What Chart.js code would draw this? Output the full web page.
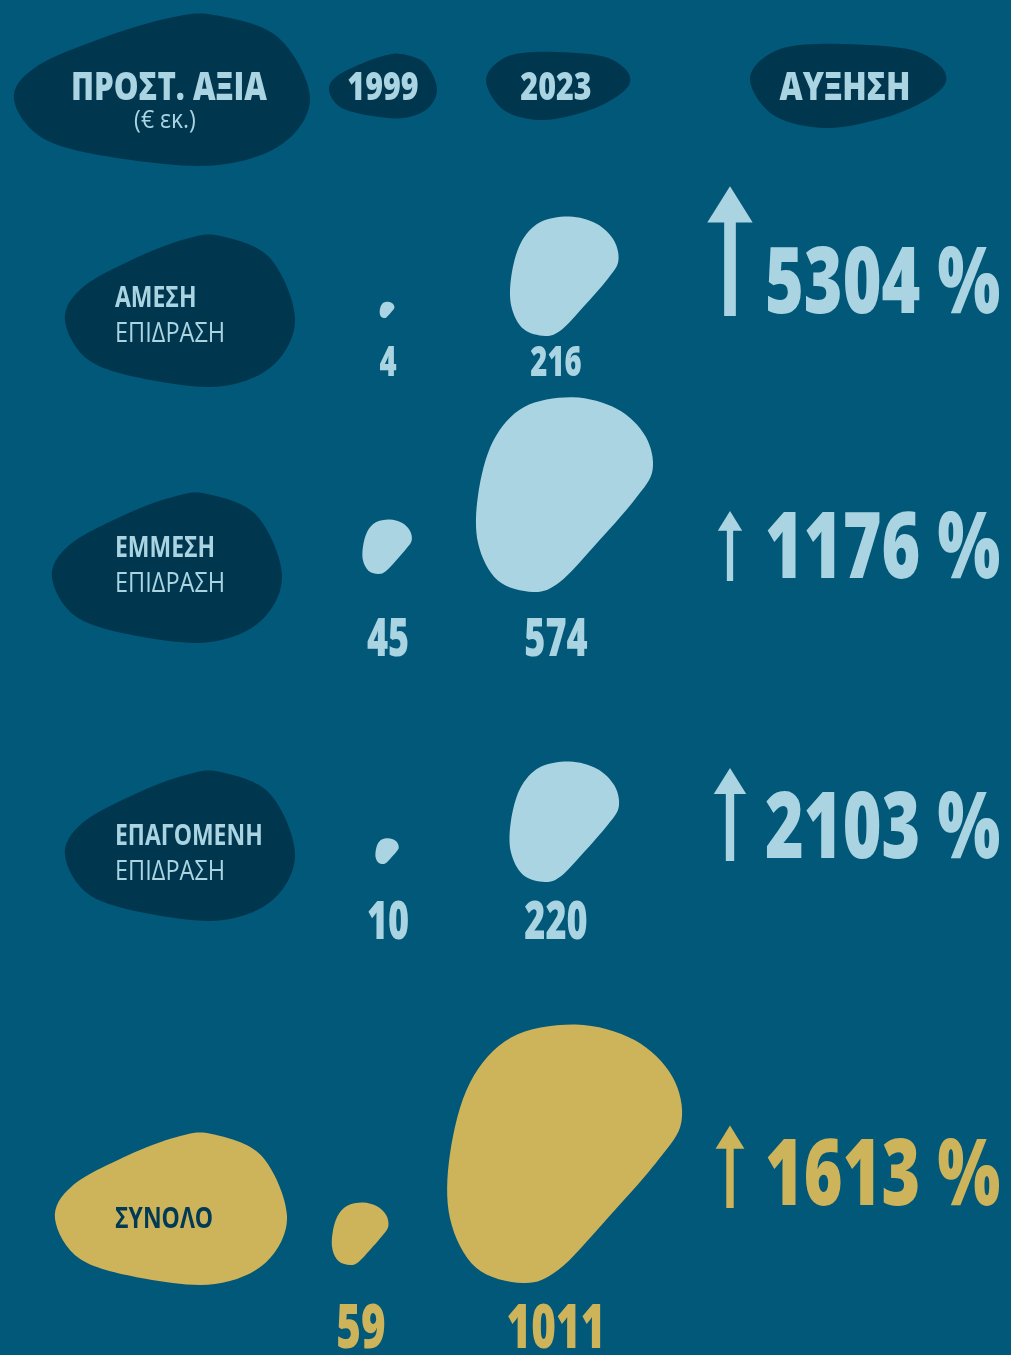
<!DOCTYPE html>
<html>
<head>
<meta charset="utf-8">
<script src="https://cdn.jsdelivr.net/npm/chart.js@4.4.1/dist/chart.umd.min.js"></script>
<style>
html,body{margin:0;padding:0;background:#025878;overflow:hidden;}
canvas{display:block;}
</style>
</head>
<body>
<canvas id="c" width="1011" height="1355"></canvas>
<script>
// ---------- DATA ----------
const categories = ['ΑΜΕΣΗ', 'ΕΜΜΕΣΗ', 'ΕΠΑΓΟΜΕΝΗ', 'ΣΥΝΟΛΟ'];
const categorySub = ['ΕΠΙΔΡΑΣΗ', 'ΕΠΙΔΡΑΣΗ', 'ΕΠΙΔΡΑΣΗ', ''];
const years = ['1999', '2023'];
const values1999 = [4, 45, 10, 59];
const values2023 = [216, 574, 220, 1011];
const increasePct = [5304, 1176, 2103, 1613];
const headerTitle = 'ΠΡΟΣΤ. ΑΞΙΑ';
const headerUnit = '(€ εκ.)';
const headerIncrease = 'ΑΥΞΗΣΗ';

// ---------- STYLE / LAYOUT ----------
const COLORS = {
  bg: '#025878',
  dark: '#00374f',
  light: '#aad4e1',
  gold: '#cdb35a',
  darkText: '#003a55'
};
const FONT = '"Open Sans", "DejaVu Sans", sans-serif';
const LAYOUT = {
  yearX: [387, 564],
  yearShiftX: [[0, 0], [0, 0], [0, 0], [-27, 0]],
  rowBase: [336, 592, 882, 1283],
  lift1999: 18,
  valueLabelY: [364, 641, 924, 1330],
  valueLabelSize: [43, 53, 53, 62],
  valueLabelShiftX: [1, -8],
  pctBaseline: [313, 578, 858, 1205],
  pctX: 765,
  arrowX: 730,
  pctSize: 92,
  rowBlob: [
    {cx: 180, cy: 311, hw: 115, hh: 75},
    {cx: 167, cy: 568, hw: 115, hh: 74},
    {cx: 180, cy: 846, hw: 115, hh: 74},
    {cx: 171, cy: 1209, hw: 116, hh: 75}
  ],
  rowTextX: 115,
  rowLine1: [307, 557, 845, 1228],
  rowLine2: [342, 592, 880, 0],
  header: {
    title: {cx: 162, cy: 90, hw: 148, hh: 75},
    y1999: {cx: 383, cy: 86, hw: 54, hh: 32},
    y2023: {cx: 558, cy: 86, hw: 72, hh: 34},
    inc: {cx: 848, cy: 86, hw: 98, hh: 42}
  }
};
const SCALE_K = 3.87;      // bubble radius per sqrt(value)

// blob templates (normalised outline points)
const SHAPE_DATA = [[0.1,-1],[0.6,-0.88],[0.92,-0.6],[1,-0.25],[0.8,0.05],[0.35,0.52],[-0.05,0.9],[-0.35,1],[-0.75,0.88],[-0.97,0.5],[-0.97,0.0],[-0.8,-0.55],[-0.45,-0.9]];
const SHAPE_LABEL = [[0.35,-1],[0.78,-0.71],[1,0.09],[0.82,0.71],[0.38,1],[-0.22,0.93],[-0.78,0.67],[-1,0.13],[-0.85,-0.31],[-0.38,-0.71],[0.05,-0.96]];
const SHAPE_PILL = [[-0.32,-1],[0.56,-0.9],[0.91,-0.55],[1,-0.11],[0.81,0.32],[0.38,0.75],[-0.22,1],[-0.75,0.71],[-1,-0.15],[-0.78,-0.79]];

function radius(v) { return SCALE_K * Math.sqrt(v); }

function blobPath(ctx, shape, cx, cy, hw, hh) {
  const p = shape.map(([a, b]) => [cx + a * hw, cy + b * hh]);
  const n = p.length;
  ctx.beginPath();
  ctx.moveTo(p[0][0], p[0][1]);
  for (let i = 0; i < n; i++) {
    const p0 = p[(i - 1 + n) % n], p1 = p[i], p2 = p[(i + 1) % n], p3 = p[(i + 2) % n];
    const c1x = p1[0] + (p2[0] - p0[0]) / 6, c1y = p1[1] + (p2[1] - p0[1]) / 6;
    const c2x = p2[0] - (p3[0] - p1[0]) / 6, c2y = p2[1] - (p3[1] - p1[1]) / 6;
    ctx.bezierCurveTo(c1x, c1y, c2x, c2y, p2[0], p2[1]);
  }
  ctx.closePath();
}

function drawText(ctx, s, x, y, o) {
  ctx.save();
  ctx.font = `${o.weight || 700} ${o.size}px ${FONT}`;
  ctx.fillStyle = o.color;
  ctx.textBaseline = o.baseline || 'alphabetic';
  ctx.textAlign = 'left';
  const sx = o.sx || 0.78;
  const w = ctx.measureText(s).width * sx;
  let left = x;
  if (o.align === 'center') left = x - w / 2;
  else if (o.align === 'right') left = x - w;
  ctx.translate(left, y);
  ctx.scale(sx, 1);
  ctx.fillText(s, 0, 0);
  ctx.restore();
}

function blobAt(ctx, sx, sy, shape, b, color) {
  ctx.save();
  ctx.fillStyle = color;
  blobPath(ctx, shape, sx.getPixelForValue(b.cx), sy.getPixelForValue(b.cy),
    b.hw, b.hh);
  ctx.fill();
  ctx.restore();
}

const backgroundPlugin = {
  id: 'decor',
  beforeDraw(chart) {
    const ctx = chart.ctx, X = chart.scales.x, Y = chart.scales.y;
    ctx.save();
    ctx.fillStyle = COLORS.bg;
    ctx.fillRect(0, 0, chart.width, chart.height);
    ctx.restore();
    const H = LAYOUT.header;
    blobAt(ctx, X, Y, SHAPE_LABEL, H.title, COLORS.dark);
    blobAt(ctx, X, Y, SHAPE_LABEL, H.y1999, COLORS.dark);
    blobAt(ctx, X, Y, SHAPE_PILL, H.y2023, COLORS.dark);
    blobAt(ctx, X, Y, SHAPE_PILL, H.inc, COLORS.dark);
    drawText(ctx, headerTitle, X.getPixelForValue(H.title.cx + 7), Y.getPixelForValue(100), {size: 39, weight: 800, color: COLORS.light, align: 'center', sx: 0.8});
    drawText(ctx, headerUnit, X.getPixelForValue(H.title.cx + 3), Y.getPixelForValue(128), {size: 25, weight: 400, color: COLORS.light, align: 'center', sx: 0.92});
    drawText(ctx, years[0], X.getPixelForValue(H.y1999.cx), Y.getPixelForValue(100), {size: 39, weight: 800, color: COLORS.light, align: 'center', sx: 0.78});
    drawText(ctx, years[1], X.getPixelForValue(H.y2023.cx - 2), Y.getPixelForValue(100), {size: 39, weight: 800, color: COLORS.light, align: 'center', sx: 0.78});
    drawText(ctx, headerIncrease, X.getPixelForValue(H.inc.cx - 3), Y.getPixelForValue(100), {size: 39, weight: 800, color: COLORS.light, align: 'center', sx: 0.82});

    categories.forEach((c, i) => {
      const total = i === categories.length - 1;
      blobAt(ctx, X, Y, SHAPE_LABEL, LAYOUT.rowBlob[i], total ? COLORS.gold : COLORS.dark);
      const tx = X.getPixelForValue(LAYOUT.rowTextX);
      drawText(ctx, c, tx, Y.getPixelForValue(LAYOUT.rowLine1[i]), {size: 28, color: total ? COLORS.darkText : COLORS.light, sx: 0.82});
      if (categorySub[i]) {
        drawText(ctx, categorySub[i], tx, Y.getPixelForValue(LAYOUT.rowLine2[i]), {size: 28, weight: 400, color: COLORS.light, sx: 0.84});
      }
    });
  },
  afterDatasetsDraw(chart) {
    const ctx = chart.ctx, X = chart.scales.x, Y = chart.scales.y;
    chart.data.datasets.forEach((ds, di) => {
      const meta = chart.getDatasetMeta(di);
      meta.data.forEach((el, i) => {
        const r = el.options.radius;
        const color = i === categories.length - 1 ? COLORS.gold : COLORS.light;
        ctx.save();
        ctx.fillStyle = color;
        blobPath(ctx, SHAPE_DATA, el.x, el.y, r * 0.955, r * 1.05);
        ctx.fill();
        ctx.restore();
        // value label
        const lx = el.x + LAYOUT.valueLabelShiftX[di];
        drawText(ctx, String(ds.data[i].v), lx, Y.getPixelForValue(LAYOUT.valueLabelY[i]),
          {size: LAYOUT.valueLabelSize[i], weight: 800, color, align: 'center', baseline: 'middle', sx: 0.68});
      });
    });
    // increase arrows + percentages
    increasePct.forEach((p, i) => {
      const color = i === categories.length - 1 ? COLORS.gold : COLORS.light;
      const base = Y.getPixelForValue(LAYOUT.pctBaseline[i]);
      const h = 39.8 * Math.log(p) - 211.5;       // arrow length grows with the increase
      const ax = X.getPixelForValue(LAYOUT.arrowX);
      const bottom = base + 3, top = bottom - h;
      const sw = 0.09 * h, hw = 0.35 * h, hh = 0.28 * h;
      ctx.save();
      ctx.fillStyle = color;
      ctx.fillRect(ax - sw / 2, top + hh - 1, sw, h - hh + 1);
      ctx.beginPath();
      ctx.moveTo(ax, top);
      ctx.lineTo(ax + hw / 2, top + hh);
      ctx.lineTo(ax - hw / 2, top + hh);
      ctx.closePath();
      ctx.fill();
      ctx.restore();
      drawText(ctx, p + ' %', X.getPixelForValue(LAYOUT.pctX), base, {size: LAYOUT.pctSize, weight: 800, color, sx: 0.72});
    });
  }
};

function point(v, di, i) {
  const r = radius(v);
  const hh = r * 1.05;
  const base = LAYOUT.rowBase[i] - (di === 0 ? LAYOUT.lift1999 : 0);
  return {x: LAYOUT.yearX[di] + LAYOUT.yearShiftX[i][di], y: base - hh, r, v};
}

new Chart(document.getElementById('c'), {
  type: 'bubble',
  data: {
    datasets: [
      {label: years[0], data: values1999.map((v, i) => point(v, 0, i)), backgroundColor: 'rgba(0,0,0,0)', borderWidth: 0},
      {label: years[1], data: values2023.map((v, i) => point(v, 1, i)), backgroundColor: 'rgba(0,0,0,0)', borderWidth: 0}
    ]
  },
  options: {
    responsive: false,
    animation: false,
    devicePixelRatio: 1,
    events: [],
    layout: {padding: 0, autoPadding: false},
    clip: false,
    plugins: {legend: {display: false}, tooltip: {enabled: false}},
    scales: {
      x: {type: 'linear', min: 0, max: 1011, display: false},
      y: {type: 'linear', min: 0, max: 1355, reverse: true, display: false}
    }
  },
  plugins: [backgroundPlugin]
});
</script>
</body>
</html>
